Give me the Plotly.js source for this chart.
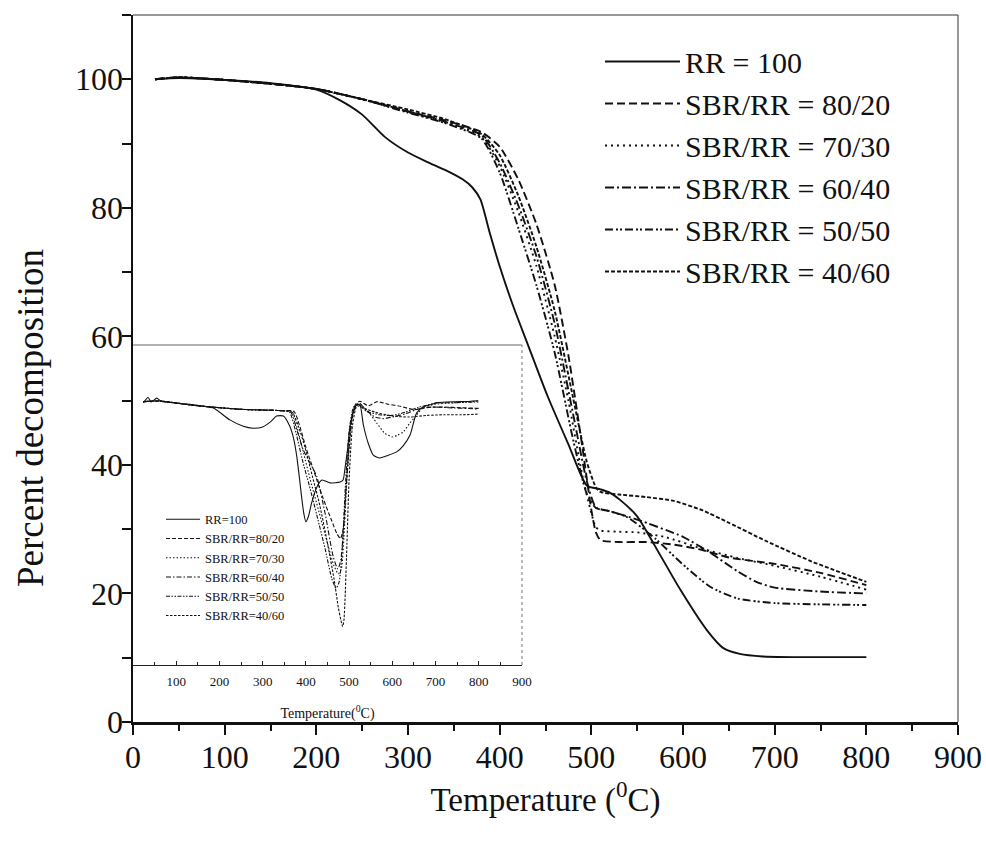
<!DOCTYPE html>
<html>
<head>
<meta charset="utf-8">
<script src="https://cdn.plot.ly/plotly-3.0.1.min.js"></script>
<style>html,body{margin:0;padding:0;background:#fff;}#chart{width:986px;height:843px;}</style>
</head>
<body>
<div id="chart"></div>
<script>
// ---------- Main TGA curves (Temperature °C vs Percent decomposition) ----------
const seriesNames = ["RR = 100", "SBR/RR = 80/20", "SBR/RR = 70/30", "SBR/RR = 60/40", "SBR/RR = 50/50", "SBR/RR = 40/60"];
const insetNames = ["RR=100", "SBR/RR=80/20", "SBR/RR=70/30", "SBR/RR=60/40", "SBR/RR=50/50", "SBR/RR=40/60"];

const tRR = [24, 50, 100, 150, 200, 225, 250, 275, 300, 320, 342, 360, 370, 379, 389, 400, 415, 430, 452, 475, 495, 510, 520, 531, 550, 575, 597, 626, 644, 662, 687, 720, 760, 800];
const wRR = [100, 100.2, 99.9, 99.4, 98.4, 96.8, 94.5, 91.0, 88.6, 87.2, 85.8, 84.4, 83.2, 81.3, 76.2, 70.9, 64.6, 59.0, 50.8, 43.2, 36.8, 36.2, 35.7, 34.6, 32.0, 26.0, 20.6, 14.3, 11.5, 10.6, 10.2, 10.1, 10.1, 10.1];

const t8020 = [24, 50, 100, 150, 200, 250, 300, 340, 380, 400, 420, 440, 460, 475, 490, 500, 505, 510, 530, 560, 590, 620, 650, 700, 750, 800];
const w8020 = [100, 100.3, 99.9, 99.3, 98.5, 96.9, 95.0, 93.6, 91.8, 89.5, 84.5, 77.5, 68.0, 57.0, 43.0, 33.0, 29.5, 28.3, 28.0, 28.0, 27.6, 26.8, 25.6, 24.6, 23.2, 21.3];

const t7030 = [24, 50, 100, 150, 200, 250, 300, 340, 380, 400, 420, 440, 460, 475, 490, 500, 505, 510, 530, 550, 580, 620, 660, 700, 750, 800];
const w7030 = [100, 100.3, 99.9, 99.3, 98.5, 96.9, 94.9, 93.3, 91.0, 86.5, 79.5, 71.0, 60.0, 50.0, 38.5, 32.5, 30.3, 29.8, 29.6, 29.5, 28.8, 27.0, 25.5, 24.3, 22.6, 20.6];

const t6040 = [24, 50, 100, 150, 200, 250, 300, 340, 380, 400, 420, 440, 460, 480, 495, 505, 520, 550, 600, 630, 660, 680, 700, 750, 800];
const w6040 = [100, 100.3, 99.9, 99.3, 98.5, 96.9, 95.0, 93.4, 91.3, 87.0, 80.5, 72.5, 62.0, 48.0, 37.5, 33.4, 32.8, 31.5, 28.8, 26.3, 23.4, 21.8, 20.9, 20.3, 20.0];

const t5050 = [24, 50, 100, 150, 200, 250, 300, 340, 380, 400, 420, 440, 460, 480, 495, 505, 520, 540, 570, 600, 630, 660, 700, 750, 800];
const w5050 = [100, 100.3, 99.9, 99.3, 98.5, 96.9, 94.8, 93.2, 90.8, 85.5, 77.0, 68.0, 57.5, 44.0, 35.5, 33.3, 32.8, 31.8, 28.5, 24.5, 21.0, 19.2, 18.5, 18.3, 18.2];

const t4060 = [24, 50, 100, 150, 200, 250, 300, 340, 380, 400, 420, 440, 460, 480, 495, 505, 510, 530, 560, 590, 620, 650, 690, 740, 800];
const w4060 = [100, 100.3, 99.9, 99.3, 98.5, 96.9, 95.3, 93.8, 91.5, 88.2, 82.0, 74.0, 64.0, 50.5, 40.5, 36.5, 35.8, 35.4, 35.0, 34.4, 33.0, 31.0, 28.2, 25.0, 21.8];

// ---------- Inset DTG curves (relative derivative signal, arbitrary units) ----------
const iRRx = [24, 35, 42, 55, 65, 110, 147, 186, 224, 255, 278, 300, 320, 332, 348, 363, 372, 379, 385, 390, 395, 400, 406, 413, 425, 437, 456, 479, 486, 491, 497, 502, 510, 518, 525, 533, 545, 556, 571, 590, 610, 625, 641, 656, 672, 687, 703, 726, 764, 799];
const iRRy = [82.0, 83.6, 82.2, 83.4, 82.4, 81.7, 81.2, 80.3, 76.6, 74.6, 74.0, 74.4, 76.2, 77.8, 77.8, 74.5, 70.5, 65.1, 58.5, 52.6, 47.5, 44.8, 46.5, 50.5, 55.5, 57.8, 56.9, 57.2, 57.8, 62.0, 68.0, 74.4, 79.2, 81.3, 81.3, 75.0, 69.0, 65.6, 64.7, 65.5, 66.6, 68.5, 71.9, 78.7, 80.7, 81.3, 82.0, 82.2, 82.3, 82.6];

const i8020x = [24, 60, 150, 250, 340, 372, 385, 400, 420, 440, 460, 472, 480, 487, 493, 500, 507, 515, 525, 545, 565, 590, 620, 650, 680, 720, 760, 800];
const i8020y = [82.3, 82.5, 81.0, 79.9, 79.5, 79.3, 75.0, 68.0, 60.0, 52.0, 45.0, 41.0, 39.5, 43.0, 55.0, 68.0, 77.0, 81.5, 82.4, 81.0, 82.3, 81.5, 80.8, 79.8, 80.5, 80.6, 80.4, 80.2];

const i7030x = [24, 60, 150, 250, 340, 368, 380, 395, 410, 430, 450, 465, 475, 482, 488, 495, 503, 512, 522, 541, 564, 582, 599, 612, 625, 640, 656, 672, 700, 750, 800];
const i7030y = [82.3, 82.5, 81.0, 79.9, 79.5, 79.2, 74.0, 66.0, 58.0, 48.0, 38.0, 31.0, 28.5, 30.0, 40.0, 58.0, 73.0, 80.5, 81.5, 79.7, 75.6, 72.5, 71.3, 71.8, 72.8, 75.5, 78.1, 80.5, 81.5, 82.0, 82.5];

const i6040x = [24, 60, 150, 250, 340, 365, 380, 394, 410, 425, 445, 463, 474, 481, 488, 496, 505, 514, 524, 540, 560, 580, 600, 630, 660, 690, 730, 800];
const i6040y = [82.3, 82.5, 81.0, 79.9, 79.5, 79.0, 73.0, 67.2, 63.0, 59.0, 47.0, 34.0, 30.0, 33.0, 45.0, 62.0, 76.0, 81.0, 81.8, 79.5, 77.5, 77.0, 77.5, 78.5, 80.0, 80.6, 80.4, 80.0];

const i5050x = [24, 60, 150, 250, 340, 362, 378, 392, 408, 425, 445, 460, 470, 477, 484, 491, 500, 510, 520, 540, 570, 600, 630, 660, 700, 750, 800];
const i5050y = [82.3, 82.5, 81.0, 79.9, 79.5, 79.0, 72.0, 64.0, 56.0, 47.0, 36.0, 27.0, 24.0, 26.0, 36.0, 55.0, 73.0, 80.5, 81.5, 79.3, 78.2, 78.0, 79.0, 80.5, 81.8, 82.0, 82.2];

const i4060x = [24, 60, 150, 250, 340, 368, 383, 398, 415, 432, 450, 465, 475, 481, 485, 488, 491, 495, 500, 508, 518, 530, 560, 600, 640, 680, 720, 760, 800];
const i4060y = [82.3, 82.5, 81.0, 79.9, 79.5, 79.0, 74.5, 68.0, 59.0, 50.0, 38.0, 27.0, 18.0, 14.0, 12.0, 14.0, 22.0, 38.0, 58.0, 75.0, 81.0, 80.5, 79.0, 77.8, 77.5, 78.0, 78.2, 78.2, 78.4];

// ---------- styles ----------
const mainDash = ["solid", "8px,4px", "2px,4px", "9px,3px,2px,3px", "8px,3px,2px,2px,2px,3px", "4px,2px"];
const insetDash = ["solid", "4px,2px", "1.5px,2px", "5px,2px,1.5px,2px", "4px,1.5px,1.5px,1.5px,1.5px,1.5px", "2.5px,1.5px"];
const serif = "Liberation Serif, Times New Roman, serif";

const mainX = [tRR, t8020, t7030, t6040, t5050, t4060];
const mainY = [wRR, w8020, w7030, w6040, w5050, w4060];
const insX = [iRRx, i8020x, i7030x, i6040x, i5050x, i4060x];
const insY = [iRRy, i8020y, i7030y, i6040y, i5050y, i4060y];

const traces = [];
for (let i = 0; i < 6; i++) {
  traces.push({
    x: mainX[i], y: mainY[i], type: "scatter", mode: "lines", name: seriesNames[i],
    xaxis: "x", yaxis: "y", legend: "legend",
    line: {color: "#111", width: 1.9, dash: mainDash[i], shape: "spline", smoothing: 0.6}
  });
}
for (let i = 0; i < 6; i++) {
  traces.push({
    x: insX[i], y: insY[i], type: "scatter", mode: "lines", name: insetNames[i],
    xaxis: "x2", yaxis: "y2", legend: "legend2",
    line: {color: "#111", width: 1.1, dash: insetDash[i], shape: "spline", smoothing: 0.6}
  });
}

const insetX1 = 389 / 825;
const insetY0 = 57 / 707;
const insetY1 = 377 / 707;

const layout = {
  width: 986, height: 843,
  margin: {l: 133, r: 28, t: 15, b: 121},
  paper_bgcolor: "#fff", plot_bgcolor: "rgba(0,0,0,0)",
  showlegend: true,
  font: {family: serif, color: "#111"},
  xaxis: {
    domain: [0, 1], range: [0, 900], dtick: 100, tick0: 0,
    showline: true, linewidth: 2.5, linecolor: "#111",
    ticks: "outside", ticklen: 10, tickwidth: 2, tickcolor: "#111",
    minor: {dtick: 50, ticks: "outside", ticklen: 6, tickwidth: 2, tickcolor: "#111"},
    showgrid: false, zeroline: false, ticklabelstandoff: -5,
    tickfont: {family: serif, size: 32, color: "#111"},
    title: {text: "Temperature (<sup>0</sup>C)", font: {family: serif, size: 33, color: "#111"}, standoff: 14}
  },
  yaxis: {
    domain: [0, 1], range: [0, 110], dtick: 20, tick0: 0,
    showline: true, linewidth: 2.5, linecolor: "#111",
    ticks: "outside", ticklen: 9, tickwidth: 2, tickcolor: "#111",
    minor: {dtick: 10, ticks: "outside", ticklen: 9, tickwidth: 2, tickcolor: "#111"},
    showgrid: false, zeroline: false, ticklabelstandoff: -8,
    tickfont: {family: serif, size: 32, color: "#111"}
  },
  xaxis2: {
    domain: [0, insetX1], anchor: "y2", range: [0, 900],
    tickmode: "array", tickvals: [100, 200, 300, 400, 500, 600, 700, 800, 900],
    showline: true, linewidth: 1, linecolor: "#222",
    ticks: "inside", ticklen: 4, tickwidth: 1, tickcolor: "#222",
    minor: {tickmode: "linear", tick0: 0, dtick: 50, ticks: "inside", ticklen: 3, tickwidth: 1, tickcolor: "#222"},
    showgrid: false, zeroline: false, ticklabelstandoff: 4,
    tickfont: {family: serif, size: 13, color: "#111"},
    title: {text: "Temperature(<sup>0</sup>C)", font: {family: serif, size: 14, color: "#111"}, standoff: 20}
  },
  yaxis2: {
    domain: [insetY0, insetY1], anchor: "x2", range: [0, 100],
    showline: false, showticklabels: false, ticks: "", showgrid: false, zeroline: false
  },
  legend: {
    x: 467 / 825, xanchor: "left", y: 0.971, yanchor: "top",
    bgcolor: "rgba(0,0,0,0)", borderwidth: 0, itemwidth: 75,
    font: {family: serif, size: 30, color: "#111"}, tracegroupgap: 0
  },
  legend2: {
    x: 28 / 825, xanchor: "left", y: 0.3075, yanchor: "top",
    bgcolor: "rgba(0,0,0,0)", borderwidth: 0, itemwidth: 34,
    font: {family: serif, size: 12.5, color: "#111"}, tracegroupgap: 0
  },
  annotations: [{
    text: "Percent decomposition", xref: "paper", yref: "paper",
    x: -103 / 825, y: 304 / 707, xanchor: "center", yanchor: "middle",
    textangle: -90, showarrow: false,
    font: {family: serif, size: 37, color: "#111"}
  }],
  shapes: [
    {type: "line", xref: "paper", yref: "paper", x0: 0, x1: 1, y0: 1, y1: 1, line: {color: "#333", width: 1}},
    {type: "line", xref: "paper", yref: "paper", x0: 1, x1: 1, y0: 0, y1: 1, line: {color: "#333", width: 1}},
    {type: "line", xref: "paper", yref: "paper", x0: 0, x1: insetX1, y0: insetY1, y1: insetY1, line: {color: "#666", width: 1}},
    {type: "line", xref: "paper", yref: "paper", x0: insetX1, x1: insetX1, y0: insetY0, y1: insetY1, line: {color: "#777", width: 1, dash: "dot"}}
  ]
};

Plotly.newPlot("chart", traces, layout, {displayModeBar: false, staticPlot: true});
</script>
</body>
</html>
